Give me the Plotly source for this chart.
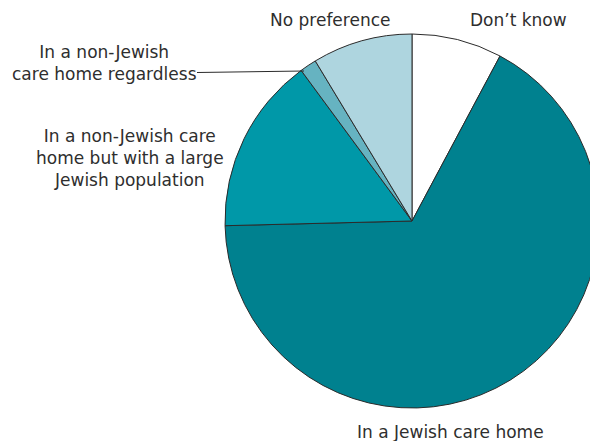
import plotly.graph_objects as go

# Preferred type of care home (share of respondents, %)
categories = [
    "Don't know",
    "In a Jewish care home",
    "In a non-Jewish care home but with a large Jewish population",
    "In a non-Jewish care home regardless",
    "No preference",
]
shares = [7.8, 66.8, 15.3, 1.45, 8.65]
colors = ["#FFFFFF", "#00818F", "#0098A8", "#66B3C1", "#AED5DF"]

W, H = 620, 441          # canvas is a little wider than the view so the pie runs off the right edge
cx, cy, r = 412, 221, 187  # pie centre and radius in pixels


def px(x):
    return x / W


def py(y):
    return 1 - y / H


fig = go.Figure(
    go.Pie(
        labels=categories,
        values=shares,
        sort=False,
        direction="clockwise",
        rotation=0,
        textinfo="none",
        hoverinfo="label+percent",
        marker=dict(colors=colors, line=dict(color="#2b2b2b", width=1)),
        domain=dict(x=[px(cx - r), px(cx + r)], y=[py(cy + r), py(cy - r)]),
        showlegend=False,
    )
)

font = dict(family="DejaVu Sans", size=17, color="#2e2e2e")
labels = [
    ("No preference", 330, 20),
    ("Don\u2019t know", 518, 20),
    ("In a non-Jewish<br>care home regardless", 105, 63),
    ("In a non-Jewish care<br>home but with a large<br>Jewish population", 130, 158),
    ("In a Jewish care home", 450, 432),
]
for text, x, y in labels:
    fig.add_annotation(
        text=text, x=px(x), y=py(y), xref="paper", yref="paper",
        showarrow=False, font=font, align="center",
        xanchor="center", yanchor="middle",
    )

# leader line to the thin "regardless" slice
fig.add_shape(type="line", xref="paper", yref="paper",
              x0=px(197), y0=py(72.5), x1=px(304), y1=py(71),
              line=dict(color="#2b2b2b", width=1))

fig.update_layout(
    width=W, height=H,
    margin=dict(l=0, r=0, t=0, b=0),
    paper_bgcolor="white", plot_bgcolor="white",
)

fig.write_html("out.html", post_script="document.body.style.overflow='hidden';document.body.style.margin='0';")
